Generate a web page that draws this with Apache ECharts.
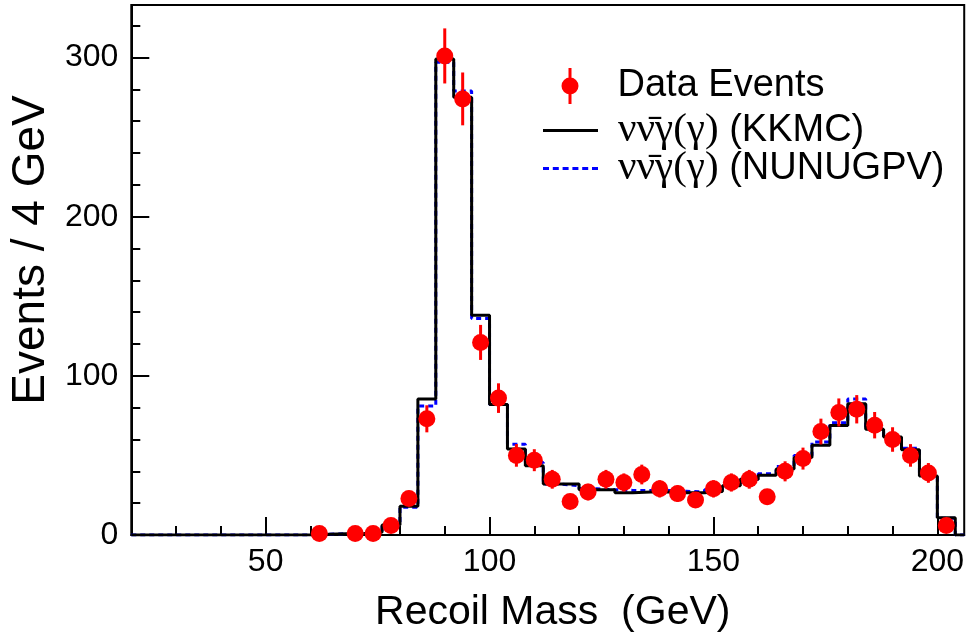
<!DOCTYPE html>
<html>
<head>
<meta charset="utf-8">
<script src="https://cdn.jsdelivr.net/npm/echarts@6/dist/echarts.min.js"></script>
<style>html,body{margin:0;padding:0;background:#fff;}#c{width:967px;height:638px;}</style>
</head>
<body>
<div id="c"></div>
<script>
// ---- data ----
const binLowEdges = [20,24,28,32,36,40,44,48,52,56,60,64,68,72,76,80,84,88,92,96,100,104,108,112,116,120,124,128,132,136,140,144,148,152,156,160,164,168,172,176,180,184,188,192,196,200];
const binWidth = 4;
const kkmcValues = [0,0,0,0,0,0,0,0,0,0,0.5,0.8,1,1.8,6.3,18,85.5,299,275,138,82,54,43.5,32,32,28.5,28.5,26.5,27,27,26.5,26.5,27.3,31,35,37.5,41.5,48.7,56.4,68.8,82.5,66.4,61.5,53.5,37,10.8];
const nunugpvValues = [0,0,0,0,0,0,0,0,0,0,0.5,0.8,1,1.8,6,17.5,81,297,279,136,82,57,45.5,32,31,29,28.5,28,28,28,27.5,27,28.5,31,35,38.5,43,50,58.5,70.5,85.5,67,60.5,54.5,37.5,10.5];
const dataMass = [62,70,74,78,82,86,90,94,98,102,106,110,114,118,122,126,130,134,138,142,146,150,154,158,162,166,170,174,178,182,186,190,194,198,202];
const dataEvents = [1,1,1,6,23,73,301,274,121,86,50,47,35,21,27,35,33,38,29,26,22,29,33,35,24,40,48,65,77,79,69,60,50,39,6];
const dataErrors = [1,1,1,2.4,4.8,8.5,17.3,16.6,11,9.3,7.1,6.9,5.9,4.6,5.2,5.9,5.7,6.2,5.4,5.1,4.7,5.4,5.7,5.9,4.9,6.3,6.9,8.1,8.8,8.9,8.3,7.7,7.1,6.2,2.4];
const xMajorTicks = [50,100,150,200];
const xMinorTicks = [30,40,60,70,80,90,110,120,130,140,160,170,180,190];
const yMajorTicks = [0,100,200,300];
const yMinorTicks = [20,40,60,80,120,140,160,180,220,240,260,280,320];
const xRange = [20, 206];
const yRange = [0, 333];
const nameData = 'Data Events';
const nameKKMC = 'νν̄γ(γ) (KKMC)';
const nameNUNU = 'νν̄γ(γ) (NUNUGPV)';

function stepData(values) {
  const pts = binLowEdges.map((e, i) => [e, values[i]]);
  const lastEdge = binLowEdges[binLowEdges.length - 1] + binWidth;
  pts.push([lastEdge, 0]);
  pts.push([xRange[1], 0]);
  return pts;
}

const chart = echarts.init(document.getElementById('c'), null, {renderer: 'canvas'});
const FONT = 'Liberation Sans, Arial, sans-serif';
const GREEK = 'Liberation Serif, DejaVu Serif, serif';

function axisBase(min, max) {
  return {type: 'value', min: min, max: max, splitLine: {show: false}};
}

function legendFormatter(name) {
  if (name.indexOf('ν') === 0) {
    const sp = name.indexOf(' ');
    return '{g|' + name.slice(0, sp) + '}{t|' + name.slice(sp) + '}';
  }
  return '{t|' + name + '}';
}
const legendText = {
  color: '#000', fontSize: 38, fontFamily: FONT, padding: [0, 0, 0, 15],
  rich: {
    g: {fontFamily: GREEK, fontSize: 41, color: '#000'},
    t: {fontFamily: FONT, fontSize: 38, color: '#000'}
  }
};
function makeLegend(item, left, centerY) {
  return {
    orient: 'vertical', left: left, top: centerY - 18, padding: 0,
    itemWidth: 55, itemHeight: 36, symbolKeepAspect: true,
    data: [item], formatter: legendFormatter, textStyle: legendText
  };
}

const option = {
  animation: false,
  backgroundColor: '#fff',
  grid: {left: 130, top: 5, width: 837, height: 535.7, show: true, borderColor: '#000', borderWidth: 2, backgroundColor: 'transparent'},
  xAxis: [
    Object.assign(axisBase(xRange[0], xRange[1]), {
      position: 'bottom',
      axisLine: {show: true, lineStyle: {color: '#000', width: 2}},
      axisTick: {show: true, inside: true, length: 18, lineStyle: {color: '#000', width: 2}, customValues: xMajorTicks},
      axisLabel: {show: true, customValues: xMajorTicks, fontSize: 32, fontFamily: FONT, color: '#000', margin: 11},
      name: 'Recoil Mass  (GeV)', nameLocation: 'middle', nameGap: 57,
      nameTextStyle: {fontSize: 41, fontFamily: FONT, color: '#000', padding: [0, 0, 0, 10]}
    }),
    Object.assign(axisBase(xRange[0], xRange[1]), {
      position: 'bottom',
      axisLine: {show: false},
      axisTick: {show: true, inside: true, length: 9, lineStyle: {color: '#000', width: 2}, customValues: xMinorTicks},
      axisLabel: {show: false}
    })
  ],
  yAxis: [
    Object.assign(axisBase(yRange[0], yRange[1]), {
      position: 'left',
      axisLine: {show: true, lineStyle: {color: '#000', width: 2}},
      axisTick: {show: true, inside: true, length: 18, lineStyle: {color: '#000', width: 2}, customValues: yMajorTicks},
      axisLabel: {show: true, customValues: yMajorTicks, fontSize: 32, fontFamily: FONT, color: '#000', margin: 13},
      name: 'Events / 4 GeV', nameLocation: 'middle', nameGap: 77,
      nameTextStyle: {fontSize: 46, fontFamily: FONT, color: '#000', padding: [0, 0, 0, 40]}
    }),
    Object.assign(axisBase(yRange[0], yRange[1]), {
      position: 'left',
      axisLine: {show: false},
      axisTick: {show: true, inside: true, length: 9, lineStyle: {color: '#000', width: 2}, customValues: yMinorTicks},
      axisLabel: {show: false}
    })
  ],
  legend: [
    makeLegend({name: nameData, icon: 'path://M0,18a8.5,8.5 0 1,1 17,0a8.5,8.5 0 1,1 -17,0z M7,0h3v36h-3z', itemStyle: {color: '#ff0000'}}, 561.5, 85),
    makeLegend({name: nameKKMC, icon: 'path://M0,0h55v3h-55z', itemStyle: {color: '#000'}}, 543, 128),
    makeLegend({name: nameNUNU, icon: 'path://M0,0h6v3h-6z M9.8,0h6v3h-6z M19.6,0h6v3h-6z M29.4,0h6v3h-6z M39.2,0h6v3h-6z M49,0h6v3h-6z', itemStyle: {color: '#0000ff'}}, 543, 166)
  ],
  series: [
    {
      name: nameNUNU, type: 'line', step: 'end', xAxisIndex: 0, yAxisIndex: 0,
      data: stepData(nunugpvValues), symbol: 'none', z: 2,
      lineStyle: {color: '#0000ff', width: 3, type: [5, 4]}, itemStyle: {color: '#0000ff'}
    },
    {
      name: nameKKMC, type: 'line', step: 'end', xAxisIndex: 0, yAxisIndex: 0,
      data: stepData(kkmcValues), symbol: 'none', z: 3,
      lineStyle: {color: '#000', width: 3}, itemStyle: {color: '#000'}
    },
    {
      name: nameData, type: 'custom', xAxisIndex: 0, yAxisIndex: 0, z: 4,
      data: dataMass.map((m, i) => [m, dataEvents[i], dataErrors[i]]),
      renderItem: function (params, api) {
        const x = api.value(0), v = api.value(1), e = api.value(2);
        const p1 = api.coord([x, v - e]);
        const p2 = api.coord([x, v + e]);
        return {type: 'line', shape: {x1: p1[0], y1: p1[1], x2: p2[0], y2: p2[1]}, style: {stroke: '#ff0000', lineWidth: 3}};
      },
      itemStyle: {color: '#ff0000'}
    },
    {
      name: nameData, type: 'scatter', xAxisIndex: 0, yAxisIndex: 0, z: 5,
      data: dataMass.map((m, i) => [m, dataEvents[i]]),
      symbol: 'circle', symbolSize: 17, itemStyle: {color: '#ff0000', opacity: 1}
    }
  ]
};
chart.setOption(option);
</script>
</body>
</html>
